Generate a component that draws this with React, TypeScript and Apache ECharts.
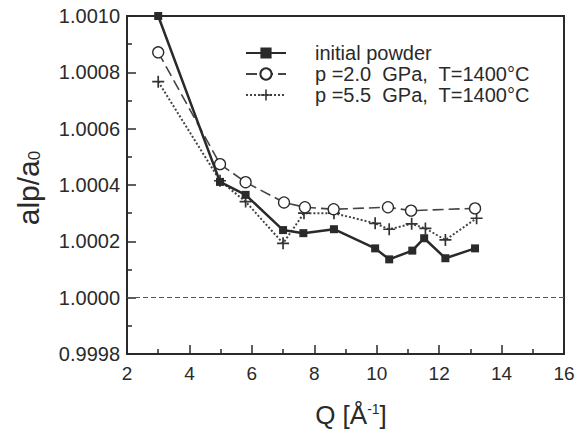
import React, { useEffect, useRef } from "react";
import * as echarts from "echarts";

const qInitial = [3.0, 4.98, 5.8, 7.0, 7.65, 8.63, 9.95, 10.4, 11.14, 11.52, 12.2, 13.15];
const initialPowder = [1.001, 1.000411, 1.000365, 1.00024, 1.000229, 1.000243, 1.000175, 1.000136, 1.000167, 1.000211, 1.00014, 1.000175];

const qP20 = [3.0, 4.98, 5.8, 7.03, 7.7, 8.62, 10.36, 11.1, 13.15];
const p20 = [1.000871, 1.000474, 1.00041, 1.000338, 1.000321, 1.000314, 1.000321, 1.000309, 1.000317];

const qP55 = [3.0, 4.98, 5.8, 7.0, 7.67, 8.63, 9.95, 10.4, 11.12, 11.56, 12.2, 13.2];
const p55 = [1.000767, 1.000415, 1.000341, 1.000193, 1.0003, 1.0003, 1.000264, 1.000243, 1.000262, 1.000246, 1.000205, 1.000282];

const seriesNames = [
  "initial powder",
  "p =2.0  GPa,  T=1400°C",
  "p =5.5  GPa,  T=1400°C",
];
const referenceLevel = 1.0;

const FONT = "Liberation Sans, Arial, sans-serif";
const INK = "#2a2a2a";

const zip = (xs: number[], ys: number[]) => xs.map((x, i) => [x, ys[i]]);

export default function App() {
  const ref = useRef<HTMLDivElement>(null);
  useEffect(() => {
    if (!ref.current) return;
    const chart = echarts.init(ref.current, undefined, { renderer: "svg" });
    const plus = "path://M4.3,0h1.4v4.3h4.3v1.4h-4.3v4.3h-1.4v-4.3h-4.3v-1.4h4.3z";
    chart.setOption({
      animation: false,
      backgroundColor: "#ffffff",
      grid: {
        left: 127,
        right: 17,
        top: 16,
        bottom: 79,
        show: true,
        borderColor: INK,
        borderWidth: 2,
        backgroundColor: "transparent",
      },
      legend: {
        orient: "vertical",
        left: 240,
        top: 38,
        itemWidth: 40,
        itemHeight: 14,
        itemGap: 1,
        textStyle: { fontSize: 20, fontFamily: FONT, color: INK, padding: [0, 0, 0, 24] },
        data: seriesNames,
      },
      xAxis: {
        type: "value",
        min: 2,
        max: 16,
        interval: 2,
        axisLine: { lineStyle: { color: INK, width: 2 } },
        axisTick: { inside: true, length: 9, lineStyle: { color: INK, width: 1.5 } },
        minorTick: { show: true, splitNumber: 2, length: 5, lineStyle: { color: INK, width: 1.5 } },
        axisLabel: { fontSize: 19, fontFamily: FONT, color: INK, margin: 10 },
        splitLine: { show: false },
      },
      yAxis: {
        type: "value",
        min: 0.9998,
        max: 1.001,
        interval: 0.0002,
        axisLine: { lineStyle: { color: INK, width: 2 } },
        axisTick: { inside: true, length: 9, lineStyle: { color: INK, width: 1.5 } },
        minorTick: { show: true, splitNumber: 2, length: 5, lineStyle: { color: INK, width: 1.5 } },
        axisLabel: {
          fontSize: 20,
          fontFamily: FONT,
          color: INK,
          margin: 7,
          formatter: (v: number) => v.toFixed(4),
        },
        splitLine: { show: false },
      },
      graphic: [
        {
          type: "text",
          x: 28,
          y: 188,
          rotation: Math.PI / 2,
          style: {
            text: "alp/a{sub|0}",
            fontSize: 30,
            fontFamily: FONT,
            fill: INK,
            align: "center",
            verticalAlign: "middle",
            rich: {
              sub: { fontSize: 17, fontFamily: FONT, fill: INK, padding: [12, 0, 0, 0] },
            },
          },
        },
        {
          type: "text",
          x: 351,
          y: 415,
          style: {
            text: "Q [Å{sup|-1}]",
            fontSize: 26,
            fontFamily: FONT,
            fill: INK,
            align: "center",
            verticalAlign: "middle",
            rich: {
              sup: { fontSize: 14, fontFamily: FONT, fill: INK, padding: [0, 0, 12, 0] },
            },
          },
        },
      ],
      series: [
        {
          name: seriesNames[0],
          type: "line",
          data: zip(qInitial, initialPowder),
          symbol: "rect",
          symbolSize: 8,
          itemStyle: { color: INK },
          lineStyle: { color: INK, width: 2.5 },
          markLine: {
            silent: true,
            symbol: ["none", "none"],
            label: { show: false },
            lineStyle: { color: "#555", width: 1, type: [5, 3] },
            data: [{ yAxis: referenceLevel }],
          },
          z: 3,
        },
        {
          name: seriesNames[1],
          type: "line",
          data: zip(qP20, p20),
          symbol: "circle",
          symbolSize: 11,
          itemStyle: { color: "#ffffff", borderColor: INK, borderWidth: 1.3 },
          lineStyle: { color: "#444", width: 1.6, type: [11, 5] },
          z: 2,
        },
        {
          name: seriesNames[2],
          type: "line",
          data: zip(qP55, p55),
          symbol: plus,
          symbolSize: 12,
          itemStyle: { color: "#333" },
          lineStyle: { color: "#444", width: 2, type: [2, 2] },
          z: 1,
        },
      ],
    });
    return () => chart.dispose();
  }, []);
  return <div ref={ref} style={{ width: 581, height: 433, position: "absolute", left: 0, top: 0 }} />;
}
